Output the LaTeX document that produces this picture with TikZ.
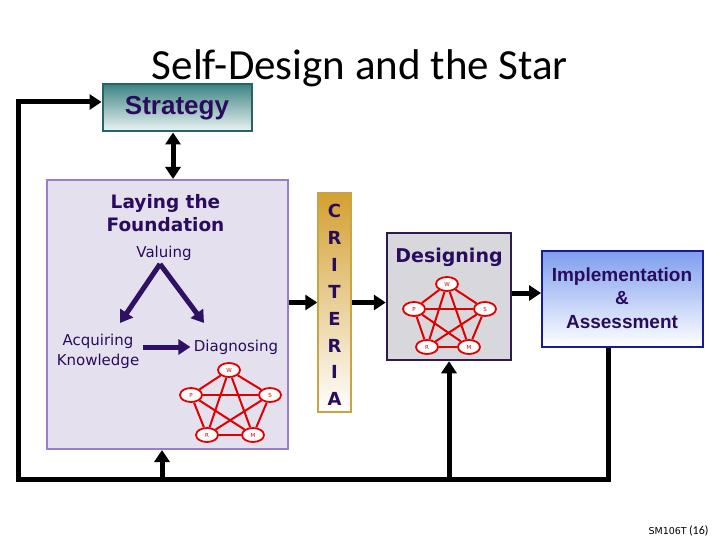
\documentclass[tikz,border=0pt]{standalone}
\usepackage{fontspec}
\setmainfont{Carlito}
\newfontfamily\dvs{DejaVu Sans}
\newfontfamily\libs{Liberation Sans}
\usetikzlibrary{arrows.meta,shapes.geometric,calc}
\definecolor{dpurple}{RGB}{42,12,94}
\definecolor{arrpurple}{RGB}{46,16,101}
\definecolor{layfill}{RGB}{229,224,238}
\definecolor{laydraw}{RGB}{154,127,200}
\definecolor{tealtop}{RGB}{62,132,132}
\definecolor{tealbot}{RGB}{236,244,244}
\definecolor{tealdraw}{RGB}{40,100,100}
\definecolor{goldtop}{RGB}{212,160,48}
\definecolor{golddraw}{RGB}{200,164,70}
\definecolor{desfill}{RGB}{216,216,220}
\definecolor{desdraw}{RGB}{46,26,79}
\definecolor{bluetop}{RGB}{126,158,238}
\definecolor{bluedraw}{RGB}{26,26,150}
\definecolor{netred}{RGB}{225,0,0}
\tikzset{
  bigline/.style={line width=5pt,black,line join=miter},
  bigarrow/.style={line width=5pt,black,line join=miter,-{Triangle[width=15pt,length=12pt]}},
  dblarrow/.style={line width=5pt,black,{Triangle[width=15pt,length=12pt]}-{Triangle[width=15pt,length=12pt]}},
  purparrow/.style={line width=5pt,arrpurple,-{Triangle[width=15pt,length=12pt]}},
  sn/.style={ellipse,draw=netred,line width=1.8pt,fill=white,minimum width=22pt,minimum height=14pt,inner sep=0pt,text=netred,font=\dvs\fontsize{5.5}{6}\selectfont},
  netedge/.style={netred,line width=2pt},
  boldtxt/.style={text=dpurple,align=center},
}
\newcommand\kfive[1]{%
  \foreach \a/\b in {W/P,W/S,P/R,S/M,R/M,W/R,W/M,P/S,P/M,S/R}
    \draw[netedge] (#1\a) -- (#1\b);
}
\begin{document}
\begin{tikzpicture}[x=1pt,y=-1pt]
\useasboundingbox (0,0) rectangle (720,540);
\fill[white] (0,0) rectangle (720,540);

% title
\node[anchor=base,font=\fontsize{43}{46}\selectfont] (title) at (360,80) {Self-Design and the Star};

% boxes
\node[draw=tealdraw,line width=2pt,top color=tealtop,bottom color=tealbot,minimum width=149pt,minimum height=47pt,inner sep=0pt,boldtxt,font=\libs\bfseries\fontsize{26}{28}\selectfont] (strat) at (177,108) {Strategy};
\node[draw=laydraw,line width=2pt,fill=layfill,minimum width=241pt,minimum height=269pt,inner sep=0pt] (lay) at (167.5,314.5) {};
\node[draw=golddraw,line width=1.5pt,top color=goldtop,bottom color=white,minimum width=33pt,minimum height=219pt,inner sep=0pt] (crit) at (334.5,302.5) {};
\node[draw=desdraw,line width=2.5pt,fill=desfill,minimum width=124pt,minimum height=127pt,inner sep=0pt] (des) at (449,296.5) {};
\node[draw=bluedraw,line width=2pt,top color=bluetop,bottom color=white,minimum width=161pt,minimum height=96pt,inner sep=0pt] (impl) at (622.5,299) {};

% texts in Laying box
\node[boldtxt,font=\dvs\bfseries\fontsize{18.5}{23}\selectfont] (laytitle) at (165.5,213) {Laying the\\Foundation};
\node[text=dpurple,font=\dvs\fontsize{15}{18}\selectfont] (val) at (164,253) {Valuing};
\node[text=dpurple,align=center,font=\dvs\fontsize{15}{20}\selectfont] (acq) at (98,351) {Acquiring\\Knowledge};
\node[text=dpurple,font=\dvs\fontsize{15}{18}\selectfont] (diag) at (236,347) {Diagnosing};
\coordinate (apex) at (160,264);
\draw[purparrow] (apex) -- (120,323);
\draw[purparrow] (apex) -- (204,323);
\draw[purparrow] (acq.east |- diag.west) ++(0,0) -- (diag.west);

% CRITERIA letters
\foreach \l [count=\i from 0] in {C,R,I,T,E,R,I,A}
  \node[text=dpurple,font=\dvs\bfseries\fontsize{18}{18}\selectfont] (crit\i) at (334.5,211+26.9*\i) {\l};

% Designing and Implementation texts
\node[text=dpurple,font=\dvs\bfseries\fontsize{19}{20}\selectfont] (destxt) at (449,257) {Designing};
\node[boldtxt,font=\libs\bfseries\fontsize{19}{23.5}\selectfont] (impltxt) at (622,298) {Implementation\\\&\\Assessment};

% star net in Laying
\begin{scope}[shift={(229,370)}]
  \node[sn] (aW) at (0,0) {W};
  \node[sn] (aP) at (-38,25) {P};
  \node[sn] (aS) at (41,25) {S};
  \node[sn] (aR) at (-22,65) {R};
  \node[sn] (aM) at (24,65) {M};
\end{scope}
\kfive{a}
% star net in Designing
\begin{scope}[shift={(447,284)}]
  \node[sn] (bW) at (0,0) {W};
  \node[sn] (bP) at (-33,25) {P};
  \node[sn] (bS) at (38,25) {S};
  \node[sn] (bR) at (-20,63) {R};
  \node[sn] (bM) at (22,63) {M};
\end{scope}
\kfive{b}

% connectors
\draw[dblarrow] ([xshift=-4pt]strat.south) -- ([xshift=-4pt]strat.south |- lay.north);
\draw[bigarrow] (lay.east |- crit.west) -- (crit.west);
\draw[bigarrow] (crit.east) -- (des.west |- crit.east);
\draw[bigarrow] ([yshift=3.5pt]des.east) -- ([yshift=3.5pt]des.east -| impl.west);
\coordinate (bl) at (18,479);
\coordinate (br) at (608,479);
\coordinate (tl) at (18,102);
\draw[bigarrow] (impl.south -| br) -- (br) -- (bl) -- (tl) -- (tl -| strat.west);
\draw[bigarrow] (des.south |- bl) -- (des.south);
\coordinate (lb) at (162,479);
\draw[bigarrow] (lb) -- (lb |- lay.south);

% footer
\node[anchor=east] (foot) at (712,531) {{\dvs\fontsize{9.5}{10}\selectfont SM106T}\ {\fontsize{12}{13}\selectfont(16)}};
\end{tikzpicture}
\end{document}
